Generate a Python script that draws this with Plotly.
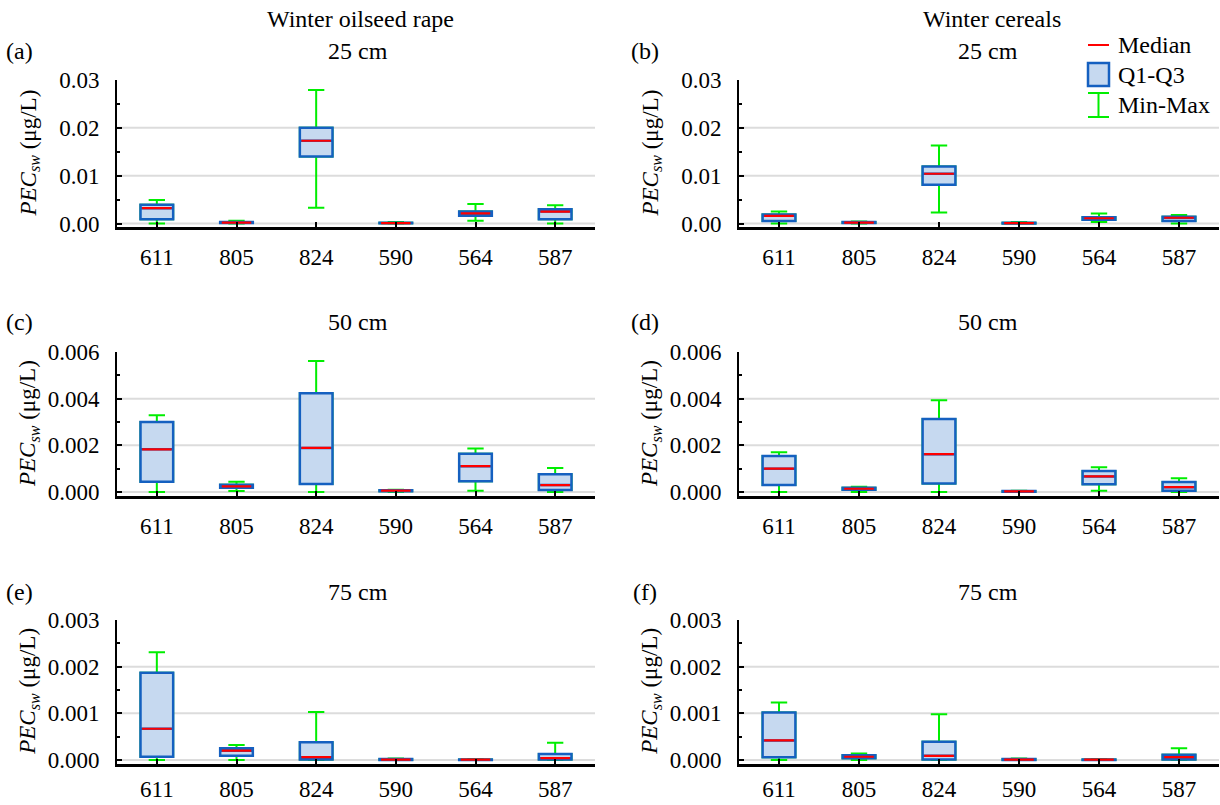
import numpy as np
import plotly.graph_objects as go

# ---------------- data ----------------
categories = ["611", "805", "824", "590", "564", "587"]

# (a) Winter oilseed rape, 25 cm
a_min = [0.0, 0.0, 0.0033, 0.0, 0.0006, 0.0]
a_q1 = [0.0009, 0.0001, 0.0140, 0.00003, 0.0016, 0.0009]
a_med = [0.0032, 0.0002, 0.0173, 0.0001, 0.0021, 0.0025]
a_q3 = [0.0039, 0.0003, 0.0200, 0.00015, 0.0025, 0.0030]
a_max = [0.0049, 0.0006, 0.0279, 0.0003, 0.0041, 0.0038]

# (b) Winter cereals, 25 cm
b_min = [0.0, 0.0, 0.0023, 0.0, 0.0003, 0.0]
b_q1 = [0.0005, 0.0001, 0.0081, 0.00002, 0.0008, 0.0005]
b_med = [0.0016, 0.0002, 0.0104, 0.0001, 0.0011, 0.0012]
b_q3 = [0.0019, 0.0003, 0.0119, 0.00015, 0.0013, 0.0014]
b_max = [0.0025, 0.0004, 0.0163, 0.0003, 0.0021, 0.0018]

# (c) Winter oilseed rape, 50 cm
c_min = [0.0, 0.00004, 0.0, 0.0, 0.00006, 0.0]
c_q1 = [0.00044, 0.00018, 0.00034, 0.00003, 0.00046, 0.00009]
c_med = [0.00183, 0.00024, 0.00189, 0.00006, 0.00111, 0.00030]
c_q3 = [0.00300, 0.00031, 0.00423, 0.00008, 0.00164, 0.00076]
c_max = [0.00329, 0.00044, 0.00561, 0.00010, 0.00187, 0.00103]

# (d) Winter cereals, 50 cm
d_min = [0.0, 0.0, 0.0, 0.0, 0.00006, 0.0]
d_q1 = [0.00030, 0.00010, 0.00037, 0.00001, 0.00033, 0.00006]
d_med = [0.00100, 0.00014, 0.00162, 0.00003, 0.00067, 0.00021]
d_q3 = [0.00154, 0.00018, 0.00313, 0.00004, 0.00090, 0.00043]
d_max = [0.00170, 0.00023, 0.00393, 0.00006, 0.00106, 0.00059]

# (e) Winter oilseed rape, 75 cm
e_min = [0.0, 0.0, 0.0, 0.0, 0.0, 0.0]
e_q1 = [0.00007, 0.00009, 0.00001, 0.0, 0.0, 0.00001]
e_med = [0.00067, 0.00020, 0.00006, 0.00001, 0.00001, 0.00004]
e_q3 = [0.00187, 0.00025, 0.00038, 0.00002, 0.00001, 0.00013]
e_max = [0.00231, 0.00032, 0.00103, 0.00003, 0.00002, 0.00037]

# (f) Winter cereals, 75 cm
f_min = [0.0, 0.0, 0.0, 0.0, 0.0, 0.0]
f_q1 = [0.00006, 0.00004, 0.00001, 0.0, 0.0, 0.00001]
f_med = [0.00042, 0.00007, 0.00009, 0.00001, 0.00001, 0.00006]
f_q3 = [0.00102, 0.00010, 0.00039, 0.00002, 0.00001, 0.00011]
f_max = [0.00123, 0.00014, 0.00098, 0.00003, 0.00002, 0.00025]

panel_labels = ["(a)", "(b)", "(c)", "(d)", "(e)", "(f)"]
depth_labels = ["25 cm", "50 cm", "75 cm"]
crop_labels = ["Winter oilseed rape", "Winter cereals"]
y_tick_max = [0.03, 0.006, 0.003]
y_tick_step = [0.01, 0.002, 0.001]
y_tick_format = [".2f", ".3f", ".3f"]
legend_labels = ["Median", "Q1-Q3", "Min-Max"]

panels = [
    (a_min, a_q1, a_med, a_q3, a_max),
    (b_min, b_q1, b_med, b_q3, b_max),
    (c_min, c_q1, c_med, c_q3, c_max),
    (d_min, d_q1, d_med, d_q3, d_max),
    (e_min, e_q1, e_med, e_q3, e_max),
    (f_min, f_q1, f_med, f_q3, f_max),
]

# ---------------- layout geometry (pixels) ----------------
W, H = 1220, 805
def px(x):
    return x / W
def py(y):
    return 1 - y / H

col_x = [(117, 595), (739, 1219)]
row_y = [(80, 227), (352, 496), (620, 763.5)]
y_bottom_pad = [0.00073, 0.00017, 0.000075]
x_label_standoff = [8, 8, 3]

FONT = "Liberation Serif"
TICK_SIZE = 23
TEXT_SIZE = 24
BOX_FILL = "#c6d9f0"
BOX_LINE = "#1560c0"
MED_COL = "#ff0000"
WHISK_COL = "#00ee00"
GRID_COL = "#dcdcdc"

BOX_W = 0.41
MED_W = 0.37

fig = go.Figure()
shapes = []
annotations = []

for i, (mn, q1, med, q3, mx) in enumerate(panels):
    r, c = divmod(i, 2)
    k = i + 1
    xa = "x" if k == 1 else f"x{k}"
    ya = "y" if k == 1 else f"y{k}"
    # whiskers (green)
    fig.add_trace(go.Box(
        x=categories, q1=q1, median=med, q3=q3, lowerfence=mn, upperfence=mx,
        width=BOX_W, whiskerwidth=0.5, fillcolor="rgba(0,0,0,0)",
        line=dict(color=WHISK_COL, width=2), xaxis=xa, yaxis=ya,
        showlegend=False, hoverinfo="skip", boxpoints=False))
    # Q1-Q3 box (blue)
    fig.add_trace(go.Box(
        x=categories, q1=q1, median=med, q3=q3, lowerfence=q1, upperfence=q3,
        width=BOX_W, whiskerwidth=0, fillcolor=BOX_FILL,
        line=dict(color=BOX_LINE, width=2.5), xaxis=xa, yaxis=ya,
        showlegend=False, hoverinfo="skip", boxpoints=False))
    # median (red)
    fig.add_trace(go.Box(
        x=categories, q1=med, median=med, q3=med, lowerfence=med, upperfence=med,
        width=MED_W, whiskerwidth=0, fillcolor="rgba(0,0,0,0)",
        line=dict(color=MED_COL, width=2.2), xaxis=xa, yaxis=ya,
        showlegend=False, hoverinfo="skip", boxpoints=False))

    x0, x1 = col_x[c]
    ytop, ybot = row_y[r]
    tmax = y_tick_max[r]
    step = y_tick_step[r]
    tickvals = list(np.round(np.arange(0, tmax + step / 2, step), 6))

    fig.update_layout(**{
        ("xaxis" if k == 1 else f"xaxis{k}"): dict(
            domain=[px(x0), px(x1)], anchor=ya, type="category",
            categoryorder="array", categoryarray=categories,
            range=[-0.5, len(categories) - 0.5], automargin=False,
            showline=True, linecolor="black", linewidth=2.5,
            ticks="inside", ticklen=5, tickwidth=2, tickcolor="black",
            showgrid=False, zeroline=False, ticklabelstandoff=x_label_standoff[r],
            tickfont=dict(family=FONT, size=TICK_SIZE, color="black")),
        ("yaxis" if k == 1 else f"yaxis{k}"): dict(
            domain=[py(ybot), py(ytop)], anchor=xa, automargin=False,
            range=[-y_bottom_pad[r], tmax], autorange=False,
            tickvals=tickvals, tickformat=y_tick_format[r],
            showline=True, linecolor="black", linewidth=2,
            ticks="inside", ticklen=5, tickwidth=2, tickcolor="black",
            minor=dict(ticks="inside", ticklen=3, tickwidth=1.5,
                       tickcolor="black", dtick=step / 2, tick0=0, showgrid=False),
            showgrid=False, zeroline=False, ticklabelstandoff=11,
            tickfont=dict(family=FONT, size=TICK_SIZE, color="black")),
    })
    # gridlines (all major ticks except the top one)
    for v in tickvals[:-1]:
        shapes.append(dict(type="line", xref=f"{xa} domain", yref=ya,
                           x0=0, x1=1, y0=v, y1=v, layer="below",
                           line=dict(color=GRID_COL, width=2)))

    # y-axis title
    annotations.append(dict(
        x=px(x0 - 88), y=py((ytop + ybot) / 2), xref="paper", yref="paper",
        text="<i>PEC</i><sub><i>sw</i></sub> (μg/L)", textangle=-90,
        showarrow=False, xanchor="center", yanchor="middle",
        font=dict(family=FONT, size=23, color="black")))
    # panel label
    lab_x = [19, 645][c]
    lab_y = [51, 322, 592][r]
    annotations.append(dict(
        x=px(lab_x), y=py(lab_y), xref="paper", yref="paper", text=panel_labels[i],
        showarrow=False, xanchor="center", yanchor="middle",
        font=dict(family=FONT, size=TEXT_SIZE, color="black")))
    # depth title
    dep_x = [358, 988][c]
    annotations.append(dict(
        x=px(dep_x), y=py(lab_y), xref="paper", yref="paper", text=depth_labels[r],
        showarrow=False, xanchor="center", yanchor="middle",
        font=dict(family=FONT, size=TEXT_SIZE, color="black")))

# crop titles
for c, txt in enumerate(crop_labels):
    annotations.append(dict(
        x=px([360, 992][c]), y=py(19), xref="paper", yref="paper", text=txt,
        showarrow=False, xanchor="center", yanchor="middle",
        font=dict(family=FONT, size=TEXT_SIZE, color="black")))

# manual legend
lx0, lx1 = 1088, 1109
shapes.append(dict(type="line", xref="paper", yref="paper",
                   x0=px(lx0), x1=px(lx1), y0=py(45), y1=py(45),
                   line=dict(color=MED_COL, width=2)))
shapes.append(dict(type="rect", xref="paper", yref="paper",
                   x0=px(lx0), x1=px(lx1), y0=py(63), y1=py(86),
                   fillcolor=BOX_FILL, line=dict(color=BOX_LINE, width=2.5)))
lxm = (lx0 + lx1) / 2
for seg in [((lx0, 93), (lx1, 93)), ((lx0, 117), (lx1, 117)), ((lxm, 93), (lxm, 117))]:
    shapes.append(dict(type="line", xref="paper", yref="paper",
                       x0=px(seg[0][0]), x1=px(seg[1][0]),
                       y0=py(seg[0][1]), y1=py(seg[1][1]),
                       line=dict(color=WHISK_COL, width=2)))
for txt, ty in zip(legend_labels, [45, 75, 105]):
    annotations.append(dict(
        x=px(1116), y=py(ty), xref="paper", yref="paper", text=txt,
        showarrow=False, xanchor="left", yanchor="middle",
        font=dict(family=FONT, size=TEXT_SIZE, color="black")))

fig.update_layout(
    template="none",
    width=W, height=H, margin=dict(l=0, r=0, t=0, b=0, pad=0, autoexpand=False),
    paper_bgcolor="white", plot_bgcolor="white",
    boxmode="overlay", showlegend=False,
    shapes=shapes, annotations=annotations,
    font=dict(family=FONT, size=TEXT_SIZE, color="black"),
)

fig.write_html(
    "out.html",
    config={"displayModeBar": False},
    post_script="document.body.style.margin='0px';document.body.style.padding='0px';",
)
